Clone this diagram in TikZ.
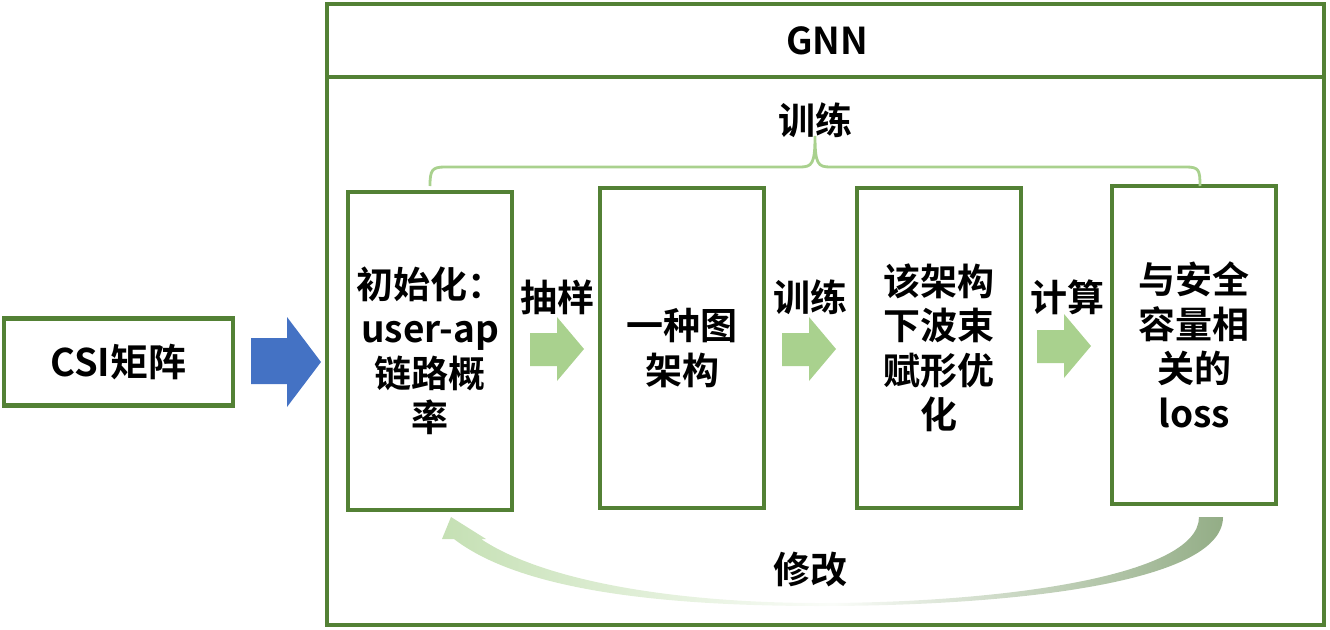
\documentclass[tikz,border=0pt]{standalone}
\usepackage{fontspec}
\setmainfont{Noto Sans CJK SC}[BoldFont={Noto Sans CJK SC Bold}]
\definecolor{dgreen}{HTML}{538135}
\definecolor{lgreen}{HTML}{A9D18E}
\definecolor{bblue}{HTML}{4472C4}
\definecolor{cleft}{HTML}{C5E0B4}
\definecolor{cright}{HTML}{93AD86}
\tikzset{
  gbox/.style={draw=dgreen, line width=4.5pt, fill=white, inner sep=0pt, align=center,
     font=\fontsize{37}{44.5}\selectfont\bfseries},
  lbl/.style={inner sep=0pt, font=\fontsize{37}{40}\selectfont\bfseries},
  blockarrow/.style={fill=lgreen, draw=none},
}
\begin{document}
\begin{tikzpicture}[x=1pt,y=-1pt]
\useasboundingbox (0,0) rectangle (1330,629);
% GNN frame
\node[draw=dgreen, line width=4.5pt, minimum width=997pt, minimum height=621pt, inner sep=0pt] (gnn) at (825.5,314.5) {};
\coordinate (hl) at (327,77);
\coordinate (hr) at (1324,77);
\draw[dgreen, line width=4.5pt] (hl) -- (hr);
\node[lbl] (gnnt) at (827,41) {GNN};
% CSI
\node[gbox, minimum width=229pt, minimum height=87pt, font=\fontsize{38}{44.5}\selectfont\bfseries] (csi) at (118.5,362) {CSI矩阵};
\fill[bblue] (251,338) -- (287,338) -- (287,317) -- (321,362) -- (287,407) -- (287,384) -- (251,384) -- cycle;
% boxes
\node[gbox, minimum width=164pt, minimum height=318pt] (b1) at (430,351) {初始化：\\user-ap\\链路概\\率};
\node[gbox, minimum width=164pt, minimum height=320pt] (b2) at (682,348) {一种图\\架构};
\node[gbox, minimum width=164pt, minimum height=320pt] (b3) at (939,348) {该架构\\下波束\\赋形优\\化};
\node[gbox, minimum width=164pt, minimum height=318pt] (b4) at (1194,345) {与安全\\容量相\\关的\\loss};
% small arrows
\foreach \x/\y in {530/349, 782/349, 1037/346}{
  \fill[blockarrow] (\x,\y-16) -- (\x+27,\y-16) -- (\x+27,\y-32) -- (\x+54,\y) -- (\x+27,\y+32) -- (\x+27,\y+17) -- (\x,\y+17) -- cycle;
}
\node[lbl] (l1) at (557,297) {抽样};
\node[lbl] (l2) at (810,297) {训练};
\node[lbl] (l3) at (1067,297) {计算};
% brace
\node[lbl] (train) at (815,120) {训练};
\draw[lgreen, line width=2.8pt] (430,186) .. controls (430,170) and (432,167) .. (445,167) -- (800,167) .. controls (812,167) and (815,164) .. (815,136)
  .. controls (815,164) and (818,167) .. (830,167) -- (1186,167) .. controls (1199,167) and (1200,170) .. (1200,186);
% curved arrow
\shade[left color=cleft, right color=cright, middle color=white!92!cleft]
  (1223,517) .. controls (1223,585) and (1000,606) .. (820,606) .. controls (660,606) and (520,590) .. (454,539)
  -- (442,539) -- (451,517) -- (486,539) -- (481,539)
  .. controls (545,582) and (680,603) .. (820,603) .. controls (990,603) and (1199,578) .. (1199,517) -- cycle;
\node[lbl] (mod) at (810,570) {修改};
\end{tikzpicture}
\end{document}
